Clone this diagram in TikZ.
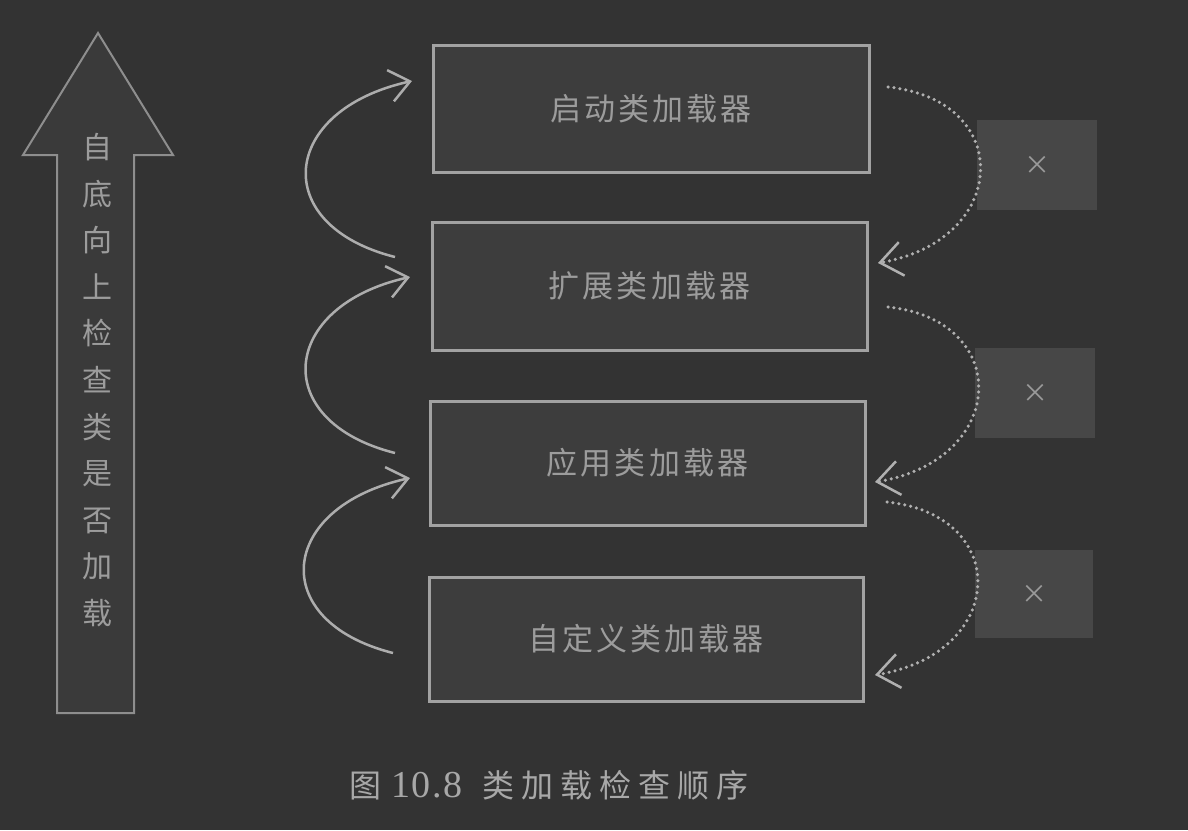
\documentclass[tikz,border=0pt]{standalone}
\usepackage{fontspec}
\setmainfont{Noto Sans CJK SC}
\newfontfamily\numfont{Liberation Serif}
\usetikzlibrary{arrows.meta}
\definecolor{bgc}{HTML}{333333}
\definecolor{boxfill}{HTML}{3D3D3D}
\definecolor{boxline}{HTML}{A2A2A2}
\definecolor{boxtext}{HTML}{9C9C9C}
\definecolor{xfill}{HTML}{474747}
\definecolor{xtext}{HTML}{9A9A9A}
\definecolor{arrowline}{HTML}{8E8E8E}
\definecolor{arrowfill}{HTML}{3A3A3A}
\definecolor{curvec}{HTML}{ADADAD}
\definecolor{dotc}{HTML}{B0B0B0}
\definecolor{captc}{HTML}{A8A8A8}
\tikzset{
  loaderbox/.style={draw=boxline, fill=boxfill, line width=3pt, rectangle,
    inner sep=0pt, text=boxtext,
    font=\fontsize{31}{34}\selectfont\addfontfeatures{LetterSpace=10}},
  xbox/.style={fill=xfill, rectangle, inner sep=0pt, text=xtext,
    font=\fontsize{26}{30}\selectfont},
  upcurve/.style={draw=curvec, line width=2.5pt,
    -{Straight Barb[length=20pt,width=32pt,line width=2.5pt]}},
  dotcurve/.style={draw=dotc, line width=3.5pt, line cap=round,
    dash pattern=on 0pt off 6pt,
    -{Straight Barb[length=22pt,width=34pt,line width=2.5pt]}},
}
\begin{document}
\begin{tikzpicture}[x=1pt,y=-1pt]
\useasboundingbox (0,0) rectangle (1188,830);
\fill[bgc] (0,0) rectangle (1188,830);

% big upward arrow
\draw[draw=arrowline, fill=arrowfill, line width=2pt, line join=miter]
  (98,33) -- (173,155) -- (134,155) -- (134,713) -- (57,713) -- (57,155)
  -- (23,155) -- cycle;
\node[text=boxtext, align=center, inner sep=0pt,
  font=\fontsize{30}{46.6}\selectfont] (vtext) at (97,380)
  {自\\底\\向\\上\\检\\查\\类\\是\\否\\加\\载};

% loader boxes
\node[loaderbox, minimum width=436pt, minimum height=127pt] (b1) at (651,108.5) {启动类加载器};
\node[loaderbox, minimum width=435pt, minimum height=128pt] (b2) at (649.5,286) {扩展类加载器};
\node[loaderbox, minimum width=435pt, minimum height=124pt] (b3) at (647.5,463) {应用类加载器};
\node[loaderbox, minimum width=434pt, minimum height=124pt] (b4) at (646,639) {自定义类加载器};

% x boxes
\node[xbox, minimum width=120pt, minimum height=90pt] (x1) at (1037,165) {×};
\node[xbox, minimum width=120pt, minimum height=90pt] (x2) at (1035,393) {×};
\node[xbox, minimum width=118pt, minimum height=88pt] (x3) at (1034,594) {×};

% endpoints of solid curves
\coordinate (s2) at (395,257);
\coordinate (e1) at (412,81);
\coordinate (s3) at (395,453);
\coordinate (e2) at (410,277);
\coordinate (s4) at (393,653);
\coordinate (e3) at (410,478);

\draw[upcurve] (s2) .. controls (268,225) and (280,110) .. (e1);
\draw[upcurve] (s3) .. controls (268,421) and (280,306) .. (e2);
\draw[upcurve] (s4) .. controls (266,621) and (278,507) .. (e3);

% endpoints of dotted curves
\coordinate (r1) at (888,87);
\coordinate (t2) at (878,263);
\coordinate (r2) at (888,307);
\coordinate (t3) at (875,482);
\coordinate (r3) at (887,502);
\coordinate (t4) at (875,675);

\draw[dotcurve] (r1) .. controls (1015,100) and (1010,240) .. (t2);
\draw[dotcurve] (r2) .. controls (1013,320) and (1008,460) .. (t3);
\draw[dotcurve] (r3) .. controls (1012,515) and (1007,653) .. (t4);

% caption
\node[text=captc, inner sep=0pt, anchor=west,
  font=\fontsize{32}{34}\selectfont] (cap) at (349,785)
  {图\hspace{10pt}{\numfont\fontsize{38}{40}\selectfont\addfontfeatures{LetterSpace=4}10.8}\hspace{20pt}{\addfontfeatures{LetterSpace=22}类加载检查顺序}};
\end{tikzpicture}
\end{document}
